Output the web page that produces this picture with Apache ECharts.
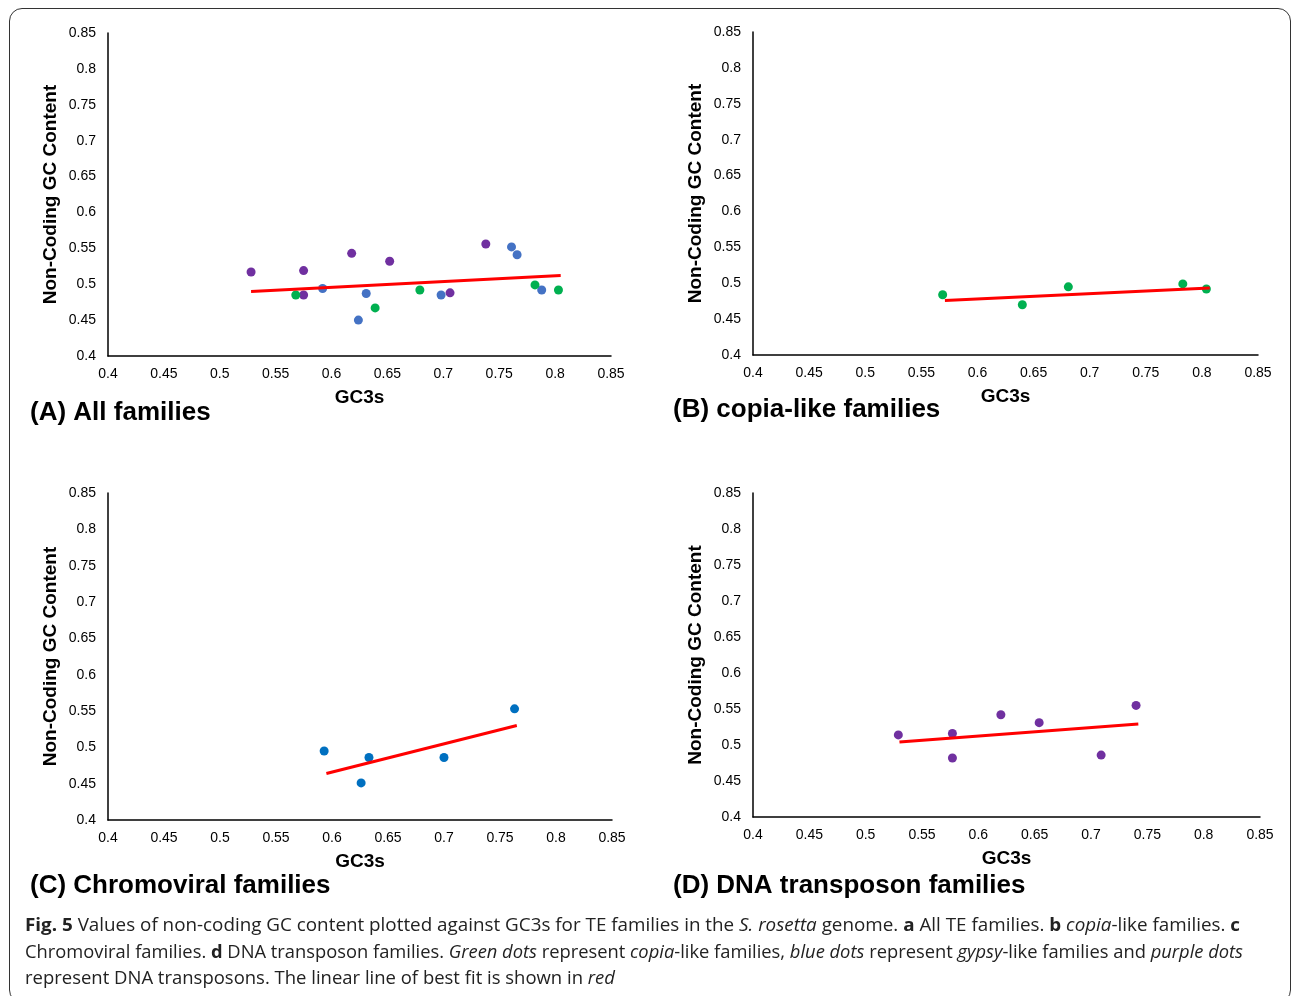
<!DOCTYPE html>
<html>
<head>
<meta charset="utf-8">
<script src="https://cdn.jsdelivr.net/npm/echarts@6/dist/echarts.min.js"></script>
<style>
html,body{margin:0;padding:0;background:#fff;}
#wrap{position:relative;width:1293px;height:996px;overflow:hidden;background:#fff;}
#chart{position:absolute;left:0;top:0;width:1293px;height:996px;}
#frame{position:absolute;left:9px;top:8px;width:1282px;height:995px;border:1.5px solid #333;border-radius:13px;box-sizing:border-box;pointer-events:none;}
#caption{position:absolute;left:25px;top:911px;font-family:"Open Sans","Noto Sans",sans-serif;font-size:18px;line-height:26.5px;color:#222;white-space:nowrap;}
#caption div{transform-origin:0 50%;}
</style>
</head>
<body>
<div id="wrap">
<div id="chart"></div>
<div id="frame"></div>
<div id="caption">
<div id="l1"><b>Fig. 5</b> Values of non-coding GC content plotted against GC3s for TE families in the <i>S. rosetta</i> genome. <b>a</b> All TE families. <b>b</b> <i>copia</i>-like families. <b>c</b></div>
<div id="l2">Chromoviral families. <b>d</b> DNA transposon families. <i>Green dots</i> represent <i>copia</i>-like families, <i>blue dots</i> represent <i>gypsy</i>-like families and <i>purple dots</i></div>
<div id="l3">represent DNA transposons. The linear line of best fit is shown in <i>red</i></div>
</div>
</div>
<script>
// ---- data ----
const axisMin = 0.4;
const axisMax = 0.85;
const axisStep = 0.05;

const copiaAll = [[0.568,0.485],[0.639,0.467],[0.679,0.492],[0.782,0.499],[0.803,0.492]];
const gypsyAll = [[0.592,0.494],[0.631,0.487],[0.624,0.450],[0.698,0.485],[0.761,0.552],[0.766,0.541],[0.788,0.492]];
const dnaAll   = [[0.528,0.517],[0.575,0.519],[0.575,0.485],[0.618,0.543],[0.652,0.532],[0.706,0.488],[0.738,0.556]];

const copiaB = [[0.569,0.484],[0.640,0.470],[0.681,0.495],[0.783,0.499],[0.804,0.492]];
const chromoC = [[0.593,0.495],[0.633,0.486],[0.626,0.451],[0.700,0.486],[0.763,0.553]];
const dnaD = [[0.529,0.514],[0.577,0.516],[0.577,0.482],[0.620,0.542],[0.654,0.531],[0.709,0.486],[0.740,0.555]];

const fitA = [[0.528,0.490],[0.805,0.512]];
const fitB = [[0.571,0.476],[0.807,0.4935]];
const fitC = [[0.595,0.464],[0.765,0.530]];
const fitD = [[0.530,0.504],[0.742,0.529]];

const panelTitles = ['(A) All families','(B) copia-like families','(C) Chromoviral families','(D) DNA transposon families'];
const xTitle = 'GC3s';
const yTitle = 'Non-Coding GC Content';

// ---- layout ----
const grids = [
  {left:108, top:33, width:503, height:323},
  {left:753, top:32, width:505, height:323},
  {left:108, top:493, width:504, height:327},
  {left:753, top:493, width:507, height:324}
];
const titlePos = [[30,398],[673,395],[30,871],[673,871]];

const FONT = '"Liberation Sans", Arial, sans-serif';
const C_GREEN = '#00B050', C_BLUE = '#4472C4', C_PURPLE = '#7030A0', C_BLUE2 = '#0070C0', C_RED = '#FF0000';

function xAx(i){
  return {gridIndex:i, type:'value', min:axisMin, max:axisMax, interval:axisStep,
    name:xTitle, nameLocation:'middle', nameGap:32,
    nameTextStyle:{fontFamily:FONT, fontWeight:'bold', fontSize:19, color:'#000'},
    axisLine:{show:true, onZero:false, lineStyle:{color:'#000', width:1.5}},
    axisTick:{show:false}, splitLine:{show:false},
    axisLabel:{fontFamily:FONT, fontSize:14, color:'#000', margin:11}};
}
function yAx(i){
  return {gridIndex:i, type:'value', min:axisMin, max:axisMax, interval:axisStep,
    name:yTitle, nameLocation:'middle', nameGap:48,
    nameTextStyle:{fontFamily:FONT, fontWeight:'bold', fontSize:19, color:'#000'},
    axisLine:{show:true, onZero:false, lineStyle:{color:'#000', width:1.5}},
    axisTick:{show:false}, splitLine:{show:false},
    axisLabel:{fontFamily:FONT, fontSize:14, color:'#000', margin:12}};
}
function sc(i, data, color){
  return {type:'scatter', xAxisIndex:i, yAxisIndex:i, data:data, symbolSize:9,
    itemStyle:{color:color, opacity:1}, z:2, silent:true};
}
function fit(i, data){
  return {type:'line', xAxisIndex:i, yAxisIndex:i, data:data, symbol:'none',
    lineStyle:{color:C_RED, width:3}, z:3, silent:true};
}

const option = {
  backgroundColor:'#fff',
  animation:false,
  title: panelTitles.map((t,i)=>({text:t, left:titlePos[i][0], top:titlePos[i][1]+2, padding:0,
    textStyle:{fontFamily:FONT, fontWeight:'bold', fontSize:26, color:'#000'}})),
  grid: grids,
  xAxis: [0,1,2,3].map(xAx),
  yAxis: [0,1,2,3].map(yAx),
  series: [
    sc(0, dnaAll, C_PURPLE), sc(0, gypsyAll, C_BLUE), sc(0, copiaAll, C_GREEN), fit(0, fitA),
    sc(1, copiaB, C_GREEN), fit(1, fitB),
    sc(2, chromoC, C_BLUE2), fit(2, fitC),
    sc(3, dnaD, C_PURPLE), fit(3, fitD)
  ]
};
const chart = echarts.init(document.getElementById('chart'), null, {renderer:'canvas'});
chart.setOption(option);

// fit caption lines to the widths measured in the figure
const targets = {l1:1215, l2:1218, l3:590};
for (const id in targets){
  const el = document.getElementById(id);
  el.style.display='inline-block';
  const w = el.getBoundingClientRect().width;
  el.style.transform = 'scaleX(' + (targets[id]/w) + ')';
  el.style.display='block';
}
</script>
</body>
</html>
